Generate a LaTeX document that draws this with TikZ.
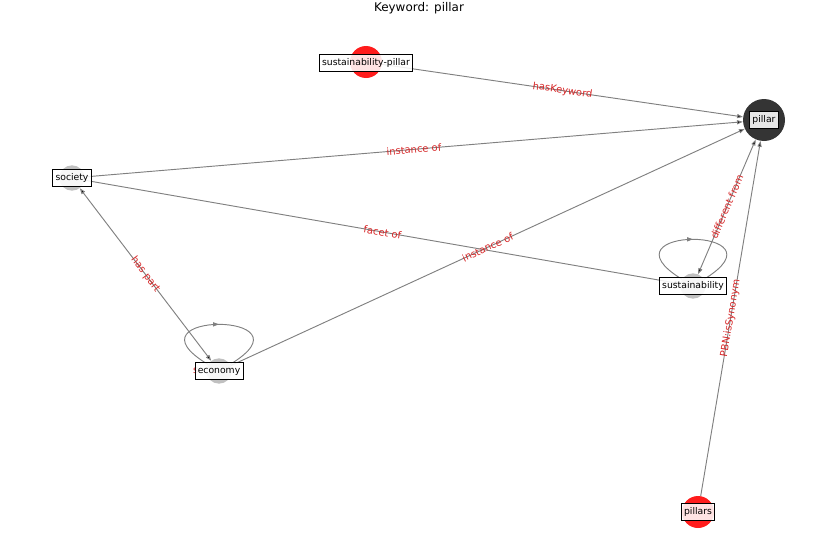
\documentclass[tikz,border=0pt]{standalone}
\usepackage{fontspec}
\setmainfont{DejaVu Sans}
\usetikzlibrary{arrows.meta,decorations.markings}
\definecolor{node_red}{RGB}{255,28,28}
\definecolor{node_grey}{RGB}{192,192,192}
\definecolor{node_dark}{RGB}{52,52,52}
\definecolor{edge_grey}{RGB}{128,128,128}
\definecolor{label_red}{RGB}{214,39,40}

\begin{document}
\begin{tikzpicture}[x=0.03cm, y=-0.03cm,
		circle_style/.style={circle,draw=none,inner sep=0pt},
		box_style/.style={rectangle,draw=black,line width=0.6pt,fill=white,fill opacity=0.88,text opacity=1,
			font=\fontsize{7.9}{9}\selectfont,inner xsep=2.4pt,inner ysep=2.4pt,text height=7.1pt,text depth=2.1pt},
		edge_style/.style={draw=edge_grey,line width=0.8pt,-{Triangle[length=5pt,width=3.5pt]}},
		both_style/.style={draw=edge_grey,line width=0.8pt,{Triangle[length=5pt,width=3.5pt]}-{Triangle[length=5pt,width=3.5pt]}},
		loop_style/.style={draw=edge_grey,line width=0.8pt,postaction={decorate},
			decoration={markings,mark=at position 0.5 with {\arrow{Triangle[length=5pt,width=3.5pt]}}}},
		label_style/.style={text=label_red,font=\fontsize{8.5}{10}\selectfont,inner sep=0pt}]

		\useasboundingbox (0,0) rectangle (837,559);
		\node[font=\fontsize{10.2}{12}\selectfont,anchor=base] (title) at (419,12) {Keyword: pillar};

		% nodes
		\node[circle_style,fill=node_red,minimum size=0.96cm] (sus_pillar) at (366,62) {};
		\node[circle_style,fill=node_dark,minimum size=1.26cm] (pillar) at (764,120) {};
		\node[circle_style,fill=node_grey,minimum size=0.76cm] (society) at (72,178) {};
		\node[circle_style,fill=node_grey,minimum size=0.76cm] (economy) at (219,371) {};
		\node[circle_style,fill=node_grey,minimum size=0.76cm] (sustainability) at (693,286) {};
		\node[circle_style,fill=node_red,minimum size=0.96cm] (pillars) at (698,512) {};

		% edges
		\draw[edge_style]  (sus_pillar) edge node[label_style,sloped]{hasKeyword} (pillar);
		\draw[edge_style]  (society) edge node[label_style,sloped]{instance of} (pillar);
		\draw[edge_style]  (society) edge node[label_style,sloped]{facet of} (sustainability);
		\draw[edge_style]  (economy) edge node[label_style,sloped]{instance of} (pillar);
		\draw[both_style]  (sustainability) edge node[label_style,sloped]{different from} (pillar);
		\draw[both_style]  (society) edge node[label_style,sloped]{has part} (economy);
		\draw[edge_style]  (pillars) edge node[label_style,sloped]{PBN:isSynonym} (pillar);
		\draw[loop_style]  (economy) .. controls +(-100,-60) and +(100,-60) .. (economy);
		\draw[loop_style]  (sustainability) .. controls +(-98,-60) and +(98,-60) .. (sustainability);
		\node[label_style,anchor=west] (economy_loop) at (193,371) {s};

		% labels
		\node[box_style] (sus_pillar_box) at (366,63) {sustainability-pillar};
		\node[box_style] (pillar_box) at (764,120) {pillar};
		\node[box_style] (society_box) at (72,178) {society};
		\node[box_style] (economy_box) at (219,371) {economy};
		\node[box_style] (sustainability_box) at (693,286) {sustainability};
		\node[box_style] (pillars_box) at (698,512) {pillars};

\end{tikzpicture}
\end{document}
